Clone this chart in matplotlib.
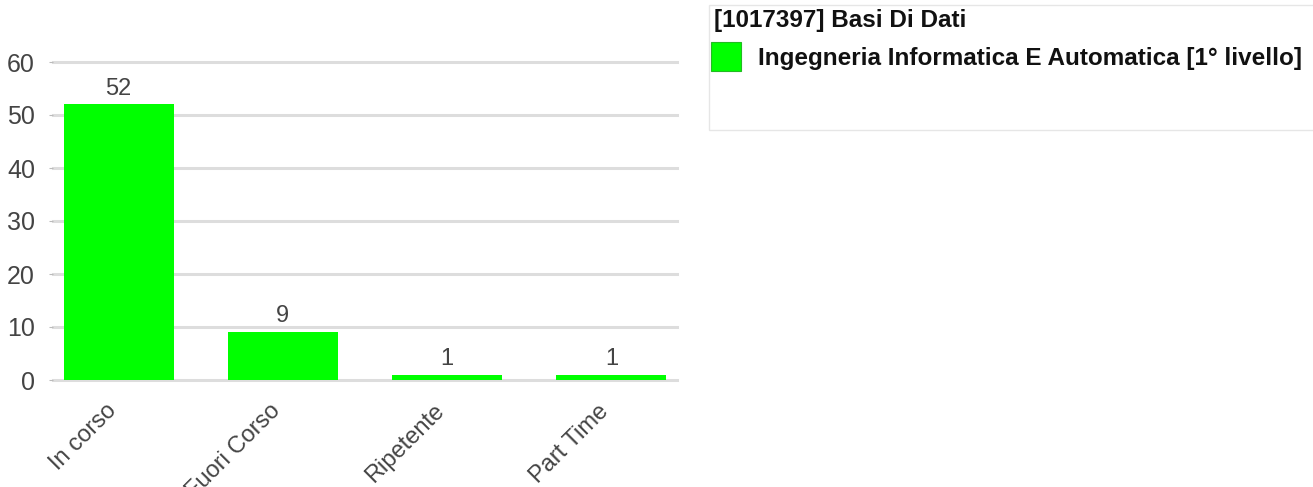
import matplotlib.pyplot as plt
from matplotlib.patches import Rectangle
from matplotlib.transforms import ScaledTranslation

categories = ["In corso", "Fuori Corso", "Ripetente", "Part Time"]
values = [52, 9, 1, 1]
y_ticks = [0, 10, 20, 30, 40, 50, 60]
legend_title = "[1017397] Basi Di Dati"
series_name = "Ingegneria Informatica E Automatica [1° livello]"

plt.rcParams["font.family"] = ["Liberation Sans", "DejaVu Sans"]

bar_color = "#00ff00"
text_color = "#444444"
grid_color = "#dddddd"

fig = plt.figure(figsize=(13.13, 4.87), dpi=100)
ax = fig.add_axes([53 / 1313, 1 - 380 / 487, (677 - 53) / 1313, (380 - 62) / 487])

x = list(range(len(categories)))
ax.bar(x, values, width=0.67, color=bar_color, zorder=3)

for xi, v in zip(x, values):
    ax.annotate(str(v), (xi, v), xytext=(0, 3.5), textcoords="offset points",
                ha="center", va="bottom", fontsize=17, color=text_color)

ax.set_xlim(-0.4, 3.4)
ax.set_ylim(0, 60)
ax.set_yticks(y_ticks)
ax.set_xticks(x)
ax.set_xticklabels(categories, rotation=45, ha="right", va="center",
                   rotation_mode="anchor")
ax.tick_params(axis="y", length=3, color="#bbbbbb", labelsize=18, labelcolor=text_color, pad=10)
ax.tick_params(axis="x", length=0, labelsize=17, labelcolor=text_color, pad=20)
# nudge slanted labels a little to the left
shift = ScaledTranslation(-6 / 100, 0, fig.dpi_scale_trans)
for lbl in ax.get_xticklabels():
    lbl.set_transform(lbl.get_transform() + shift)
ax.yaxis.grid(True, color=grid_color, linewidth=2.2, zorder=0)
ax.set_axisbelow(True)
for s in ax.spines.values():
    s.set_visible(False)
for gl in ax.get_ygridlines():
    gl.set_clip_on(False)

# legend panel on the right
W, H = 1313, 487
fig.patches.append(Rectangle((709 / W, 1 - 130 / H), (W - 709 + 5) / W, 125 / H,
                             transform=fig.transFigure, facecolor="white",
                             edgecolor="#e6e6e6", linewidth=1))
fig.text(714 / W, 1 - 21 / H, legend_title, fontsize=17.5, fontweight="bold",
         color="#111111", va="center", ha="left")
fig.patches.append(Rectangle((711 / W, 1 - 71 / H), 30 / W, 29 / H,
                             transform=fig.transFigure, facecolor=bar_color,
                             edgecolor="#22bb22", linewidth=0.8))
fig.text(758 / W, 1 - 58 / H, series_name, fontsize=17.5, fontweight="bold",
         color="#111111", va="center", ha="left")

fig.savefig("out.png", dpi=100)
